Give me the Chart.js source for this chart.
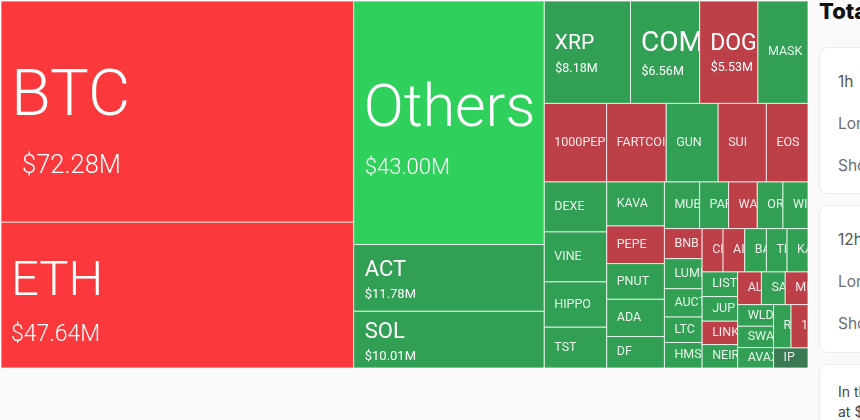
<!DOCTYPE html>
<html>
<head>
<meta charset="utf-8">
<script src="https://cdn.jsdelivr.net/npm/chart.js@4/dist/chart.umd.js"></script>
<style>
  html, body { margin: 0; height: 100%; overflow: hidden; background: #fafafa; font-family: Inter, sans-serif; }
  #wrap { position: absolute; left: 1px; top: 1px; width: 807px; height: 367px; }
  #side { position: absolute; left: 819px; top: 0; width: 300px; color: #6f6f73; font-size: 15.5px; }
  #side h2 { position: absolute; left: 0; top: -2px; margin: 0; font-size: 22px; line-height: 27px; font-weight: 800; color: #111; }
  .card { position: absolute; left: 0; width: 280px; background: #fff; border: 1px solid #ececec; border-radius: 8px; box-sizing: border-box; }
  .card span { position: absolute; left: 18px; line-height: 20px; white-space: nowrap; }
  .card .t { color: #555; font-weight: 400; }
  .card .p { color: #444; font-size: 14px; }
</style>
</head>
<body>
<div id="wrap"><canvas id="chart" width="807" height="367"></canvas></div>
<div id="side">
  <h2>Total</h2>
  <div class="card" style="top:47px;height:147px"><span class="t" style="top:24px">1h</span><span style="top:66px">Long</span><span style="top:108px">Short</span></div>
  <div class="card" style="top:205px;height:148px"><span class="t" style="top:24px">12h</span><span style="top:66px">Long</span><span style="top:108px">Short</span></div>
  <div class="card" style="top:364px;height:100px"><span class="p" style="top:17px">In the</span><span class="p" style="top:37px">at $</span></div>
</div>
<script>
const tickers = ['BTC', 'ETH', 'Others', 'ACT', 'SOL', 'XRP', 'COMP', 'DOGE', 'MASK',
  '1000PEPE', 'FARTCOIN', 'GUN', 'SUI', 'EOS', 'DEXE', 'VINE', 'HIPPO', 'TST',
  'KAVA', 'PEPE', 'PNUT', 'ADA', 'DF', 'MUB', 'PAR', 'WA', 'OR', 'WI',
  'BNB', 'LUMI', 'AUCT', 'LTC', 'HMST', 'CR', 'AI', 'BA', 'TI', 'KA',
  'LIST', 'JUP', 'LINK', 'NEIR', 'AL', 'SA', 'MI', 'WLD', 'SWA', 'AVAX', 'R', '1', 'IP'];

// liquidations in $M, the first ones printed on the chart, the rest
const liquidations = [72.28, 47.64, 43.00, 11.78, 10.01, 8.18, 6.56, 5.53, 4.75,
  4.54, 4.34, 3.78, 3.51, 3.03, 2.89, 2.89, 2.62, 2.36,
  2.35, 2.01, 1.91, 1.99, 1.68, 1.52, 1.25, 1.24, 1.11, 1.08,
  1.05, 1.05, 0.99, 0.89, 0.89, 0.84, 0.87, 0.87, 0.83, 0.84,
  0.81, 0.81, 0.77, 0.77, 0.72, 0.72, 0.69, 0.72, 0.71, 0.68, 0.70, 0.68, 0.64];

const tones = ['hotRed', 'hotRed', 'hotGreen', 'green', 'green', 'green', 'green', 'red', 'green',
  'red', 'red', 'green', 'red', 'red', 'green', 'green', 'green', 'green',
  'green', 'red', 'green', 'green', 'green', 'green', 'green', 'red', 'green', 'green',
  'red', 'green', 'green', 'green', 'green', 'red', 'red', 'green', 'green', 'green',
  'green', 'green', 'red', 'green', 'red', 'green', 'red', 'green', 'green', 'green', 'green', 'red', 'dim'];

// how many cells each treemap strip takes, in order
const stripSizes = [2, 3, 4, 5, 4, 5, 5, 5, 5, 4, 3, 3, 2, 1];

const palette = { hotRed: '#fb383c', hotGreen: '#30d05c', green: '#31a054', red: '#bd4049', dim: '#3a7a52' };

// cells big enough to show the amount, offsets are from the cell corner
const bigLabels = {
  BTC: { size: 65, x: 10, y: 98, sub: 25.5, subX: 21, subY: 166 },
  ETH: { size: 49, x: 10, y: 61, sub: 23, subX: 10, subY: 113 },
  Others: { size: 59, x: 10, y: 110, sub: 22, subX: 11, subY: 167 },
  ACT: { size: 22, x: 11, y: 26, sub: 13, subX: 11, subY: 50 },
  SOL: { size: 22, x: 11, y: 21, sub: 13, subX: 11, subY: 45 },
  XRP: { size: 21, x: 10.5, y: 43, sub: 12.5, subX: 11, subY: 68 },
  COMP: { size: 28, x: 10.5, y: 43, sub: 12.5, subX: 11, subY: 71 },
  DOGE: { size: 23, x: 10.5, y: 43, sub: 12.5, subX: 11, subY: 67 }
};

const FONT = 'Roboto, sans-serif';

class TreemapCell extends Chart.Element {
  draw(ctx) {
    const { x, y, w, h, color, name, amount } = this;
    ctx.save();
    ctx.fillStyle = color;
    ctx.fillRect(x, y, w, h);
    ctx.strokeStyle = 'rgba(255,255,255,0.75)';
    ctx.lineWidth = 1;
    ctx.strokeRect(x, y, w, h);
    ctx.beginPath();
    ctx.rect(x, y, w - 0.5, h);
    ctx.clip();
    ctx.textBaseline = 'middle';
    const big = bigLabels[name];
    if (big) {
      ctx.fillStyle = '#fff';
      ctx.font = (big.size > 30 ? '300 ' : '400 ') + big.size + 'px ' + FONT;
      ctx.fillText(name, x + big.x, y + big.y);
      ctx.font = (big.sub > 20 ? '300 ' : '400 ') + big.sub + 'px ' + FONT;
      ctx.fillText('$' + amount.toFixed(2) + 'M', x + big.subX, y + big.subY);
    } else {
      ctx.fillStyle = 'rgba(255,255,255,0.88)';
      ctx.font = '12.5px ' + FONT;
      ctx.fillText(name, x + 10, y + h / 2);
    }
    ctx.restore();
  }
}
TreemapCell.id = 'treemapCell';
TreemapCell.defaults = {};

class TreemapController extends Chart.DatasetController {
  update(mode) {
    const meta = this._cachedMeta;
    this.updateElements(meta.data, 0, meta.data.length, mode);
  }
  updateElements(elements) {
    const xs = this.chart.scales.x;
    const ys = this.chart.scales.y;
    const values = this.getDataset().data;
    const rects = [];
    // remaining box in scale units, the strip runs along its shorter side
    let left = 0, top = 0, width = 1, height = 1;
    let remaining = values.reduce((a, b) => a + b, 0);
    let i = 0;
    stripSizes.forEach(n => {
      const strip = values.slice(i, i + n);
      const sum = strip.reduce((a, b) => a + b, 0);
      const share = sum / remaining;
      const asColumn = xs.width * width >= ys.height * height;
      let pos = asColumn ? top : left;
      strip.forEach(v => {
        const part = v / sum;
        if (asColumn) {
          rects.push([left, pos, width * share, height * part]);
          pos += height * part;
        } else {
          rects.push([pos, top, width * part, height * share]);
          pos += width * part;
        }
      });
      if (asColumn) { left += width * share; width -= width * share; }
      else { top += height * share; height -= height * share; }
      remaining -= sum;
      i += n;
    });
    elements.forEach((el, k) => {
      const [rx, ry, rw, rh] = rects[k];
      const px = xs.getPixelForValue(rx);
      const py = ys.getPixelForValue(ry);
      el.x = px;
      el.y = py;
      el.w = xs.getPixelForValue(rx + rw) - px;
      el.h = ys.getPixelForValue(ry + rh) - py;
      el.name = tickers[k];
      el.amount = values[k];
      el.color = palette[tones[k]];
    });
  }
}
TreemapController.id = 'treemap';
TreemapController.defaults = { dataElementType: 'treemapCell', datasetElementType: false };

Chart.register(TreemapCell, TreemapController);

new Chart(document.getElementById('chart').getContext('2d'), {
  type: 'treemap',
  data: { labels: tickers, datasets: [{ label: 'Liquidations', data: liquidations, parsing: false }] },
  options: {
    responsive: false,
    animation: false,
    layout: { padding: 0 },
    plugins: { legend: { display: false }, tooltip: { enabled: false } },
    scales: {
      x: { type: 'linear', min: 0, max: 1, display: false },
      y: { type: 'linear', min: 0, max: 1, reverse: true, display: false }
    }
  }
});
</script>
</body>
</html>
